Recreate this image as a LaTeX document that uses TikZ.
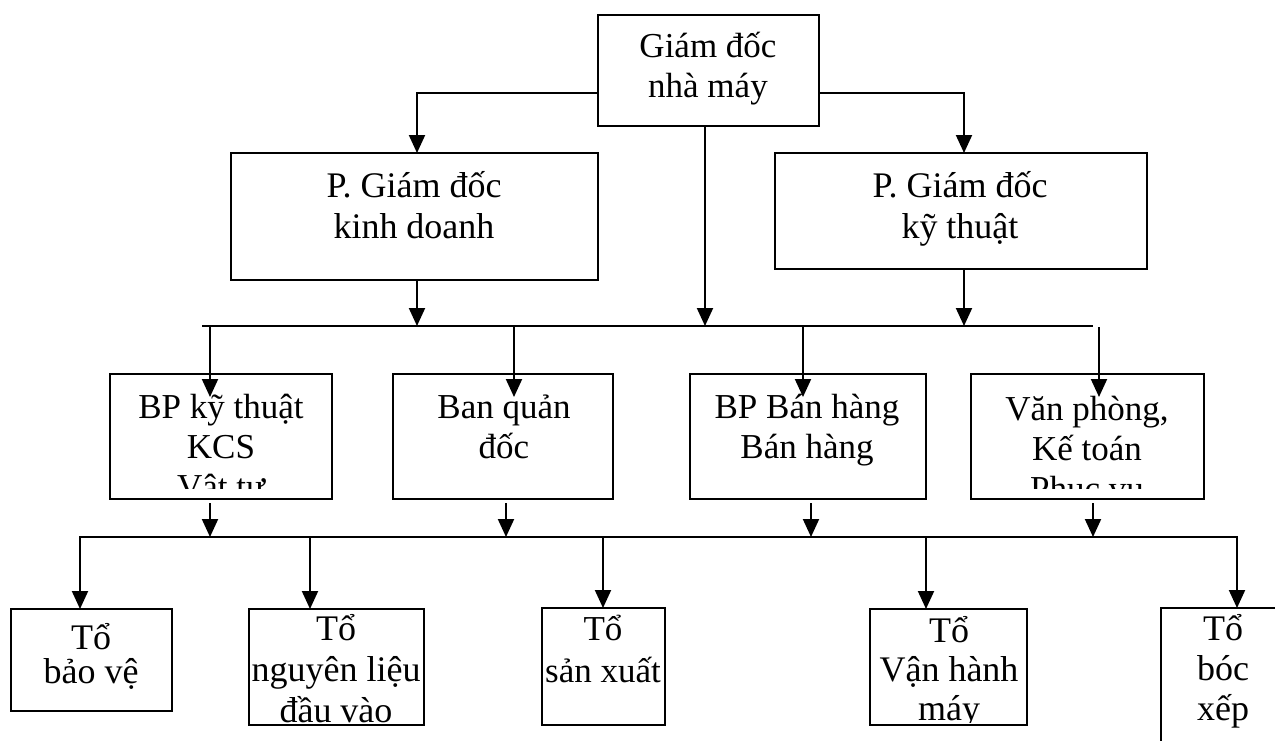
\documentclass[tikz,border=0pt]{standalone}
\usepackage{fontspec}
\setmainfont{Liberation Serif}
\usetikzlibrary{arrows.meta}
% centred block of lines whose baseline is the first line's baseline
\newcommand{\boxlines}[1]{\parbox[t]{320pt}{\centering #1}}
\begin{document}
\begin{tikzpicture}[x=1pt,y=-1pt,
  box/.style={draw, line width=2pt, inner sep=0pt, outer sep=0pt},
  lbl/.style={inner sep=0pt, anchor=base, font=\fontsize{35}{40}\selectfont},
  link/.style={line width=2pt, line cap=rect, line join=miter},
  arr/.style={link, -{Triangle[length=18pt,width=16pt]}}]
\useasboundingbox (0,0) rectangle (1275,740);

% ---------- boxes ----------
\node[box, minimum width=221pt, minimum height=111pt] (gd) at (708.5,70.5) {};
\node[box, minimum width=367pt, minimum height=127pt] (kd) at (414.5,216.5) {};
\node[box, minimum width=372pt, minimum height=116pt] (kt) at (961,211) {};

\node[box, minimum width=222pt, minimum height=125pt] (m1) at (221,436.5) {};
\node[box, minimum width=220pt, minimum height=125pt] (m2) at (503,436.5) {};
\node[box, minimum width=236pt, minimum height=125pt] (m3) at (808,436.5) {};
\node[box, minimum width=233pt, minimum height=125pt] (m4) at (1087.5,436.5) {};

\node[box, minimum width=161pt, minimum height=102pt] (b1) at (91.5,660) {};
\node[box, minimum width=175pt, minimum height=116pt] (b2) at (336.5,667) {};
\node[box, minimum width=123pt, minimum height=117pt] (b3) at (603.5,666.5) {};
\node[box, minimum width=157pt, minimum height=116pt] (b4) at (948.5,667) {};
\node[box, minimum width=124pt, minimum height=182pt] (b5) at (1223,699) {};

% ---------- labels ----------
\node[lbl] (tgd) at (708,57) {\boxlines{Giám đốc\\nhà máy}};
\node[lbl, font=\fontsize{36}{41}\selectfont] (tkd) at (414,197) {\boxlines{P. Giám đốc\\kinh doanh}};
\node[lbl, font=\fontsize{36}{41}\selectfont] (tkt) at (960,197) {\boxlines{P. Giám đốc\\kỹ thuật}};

\begin{scope}
  \clip (110,374) rectangle (332,488);
  \node[lbl] (tm1) at (221,418) {\boxlines{BP kỹ thuật\\KCS\\Vật tư}};
\end{scope}
\node[lbl] (tm2) at (504,418) {\boxlines{Ban quản\\đốc}};
\node[lbl] (tm3) at (807,418) {\boxlines{BP Bán hàng\\Bán hàng}};
\begin{scope}
  \clip (971,374) rectangle (1204,488);
  \node[lbl] (tm4) at (1087,420) {\boxlines{Văn phòng,\\Kế toán\\Phục vụ}};
\end{scope}

\node[lbl, font=\fontsize{36}{34}\selectfont] (tb1) at (91,649) {\boxlines{Tổ\\bảo vệ}};
\node[lbl, font=\fontsize{36}{41}\selectfont] (tb2) at (336,640) {\boxlines{Tổ\\nguyên liệu\\đầu vào}};
\node[lbl, font=\fontsize{35}{42}\selectfont] (tb3) at (603,640) {\boxlines{Tổ\\sản xuất}};
\begin{scope}
  \clip (870,590) rectangle (1027,722);
  \node[lbl, font=\fontsize{36}{39}\selectfont] (tb4) at (949,642) {\boxlines{Tổ\\Vận hành\\máy}};
\end{scope}
\node[lbl, font=\fontsize{36}{40}\selectfont] (tb5) at (1223,640) {\boxlines{Tổ\\bóc\\xếp}};

% ---------- director to deputies ----------
\coordinate (jl) at (417,93);
\coordinate (jr) at (964,93);
\draw[arr] (gd.west |- jl) -- (jl) -- (jl |- kd.north);
\draw[arr] (gd.east |- jr) -- (jr) -- (jr |- kt.north);

% ---------- first distribution line ----------
\coordinate (busA) at (203,326);
\coordinate (busB) at (1092,326);
\coordinate (dc) at (705,326);
\draw[link] (busA) -- (busB);
\draw[arr] (gd.south -| dc) -- (dc);
\draw[arr] (kd.south -| jl) -- (jl |- busA);
\draw[arr] (kt.south -| jr) -- (jr |- busA);

\coordinate (t1) at (210,397);
\coordinate (t2) at (514,397);
\coordinate (t3) at (803,397);
\coordinate (t4) at (1099,397);
\draw[arr] (t1 |- busA) -- (t1);
\draw[arr] (t2 |- busA) -- (t2);
\draw[arr] (t3 |- busA) -- (t3);
\draw[arr] (1099,327.5) -- (t4);

% ---------- second distribution line ----------
\coordinate (busC) at (80,537);
\coordinate (busD) at (1237,537);
\draw[link] (busC) -- (busD);

\coordinate (u1) at (210,504);
\coordinate (u2) at (506,504);
\coordinate (u3) at (811,504);
\coordinate (u4) at (1093,504);
\draw[arr] (u1) -- (u1 |- busC);
\draw[arr] (u2) -- (u2 |- busC);
\draw[arr] (u3) -- (u3 |- busC);
\draw[arr] (u4) -- (u4 |- busC);

\coordinate (v2) at (310,609);
\coordinate (v3) at (603,608);
\coordinate (v4) at (926,609);
\draw[arr] (busC) -- (busC |- b1.north);
\draw[arr] (v2 |- busC) -- (v2);
\draw[arr] (v3 |- busC) -- (v3);
\draw[arr] (v4 |- busC) -- (v4);
\draw[arr] (busD) -- (busD |- b5.north);
\end{tikzpicture}
\end{document}
